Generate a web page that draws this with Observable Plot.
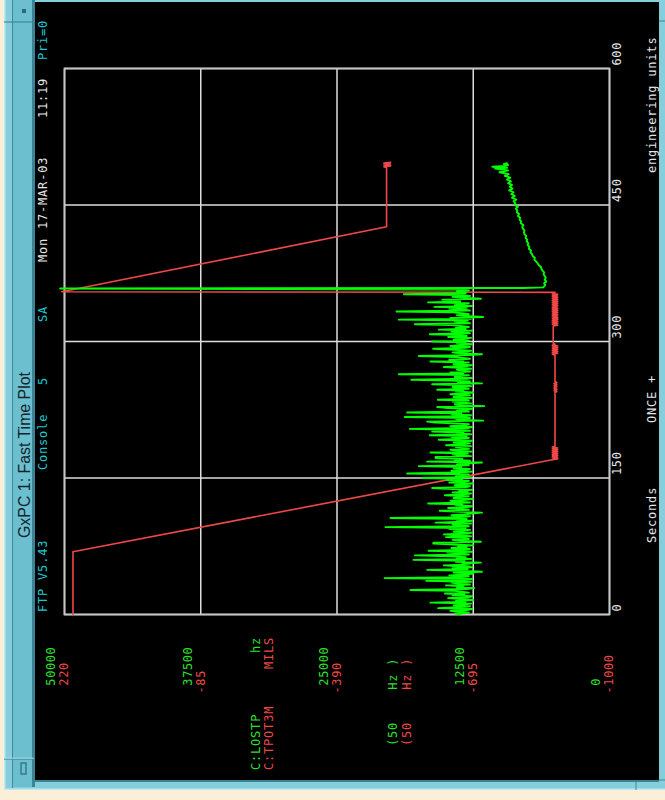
<!DOCTYPE html>
<html><head><meta charset="utf-8">
<script src="https://cdn.jsdelivr.net/npm/d3@7"></script>
<script src="https://cdn.jsdelivr.net/npm/@observablehq/plot@0.6"></script>
<style>
html,body{margin:0;padding:0;width:665px;height:800px;overflow:hidden;background:#fcefd8;}
#rot{position:absolute;left:0;top:0;width:800px;height:665px;transform-origin:0 0;transform:translate(0,800px) rotate(-90deg);}
#chrome,#plot{position:absolute;left:0;top:0;}
.mono{font-family:"DejaVu Sans Mono",monospace;font-size:12px;letter-spacing:0.8px;}
#plot svg text{letter-spacing:0.6px;}
</style></head><body>
<div id="rot">
<svg id="chrome" width="800" height="665" xmlns="http://www.w3.org/2000/svg">
  <rect width="800" height="665" fill="#fcefd8"/>
  <rect x="10" y="4" width="790" height="661" fill="#86cedc"/>
  <rect x="10" y="4" width="790" height="1.5" fill="#bfe9f0"/>
  <rect x="10" y="4" width="1.5" height="661" fill="#bfe9f0"/>
  <rect x="13" y="13" width="787" height="20" fill="#6cbfcf"/>
  <line x1="12" x2="800" y1="12.5" y2="12.5" stroke="#3d8a9b" stroke-width="1"/>
  <rect x="13" y="32" width="787" height="3" fill="#3a8496"/>
  <rect x="18" y="35" width="2" height="624" fill="#3a8496"/>
  <rect x="20" y="35" width="778" height="624" fill="#000"/>
  <rect x="798" y="35" width="2" height="624" fill="#86cedc"/>
  <line x1="41" x2="41" y1="4" y2="34" stroke="#3d8a9b" stroke-width="1.2"/>
  <line x1="41.8" x2="41.8" y1="4" y2="34" stroke="#bfe9f0" stroke-width="0.8"/>
  <rect x="26" y="21" width="11" height="5" fill="none" stroke="#2b6a7a" stroke-width="1.2"/>
  <line x1="778" x2="778" y1="4" y2="34" stroke="#3d8a9b" stroke-width="1.2"/>
  <rect x="787" y="22" width="4" height="4" fill="#2b6a7a"/>
  <line x1="20" x2="20" y1="659" y2="665" stroke="#3d8a9b"/>
  <line x1="779" x2="779" y1="659" y2="665" stroke="#3d8a9b"/>
  <line x1="10" x2="18" y1="636" y2="636" stroke="#3d8a9b"/>
  <text x="345" y="30" text-anchor="middle" font-family="Liberation Sans, Arial, sans-serif" font-size="17" textLength="166" lengthAdjust="spacingAndGlyphs" fill="#13232b">GxPC 1: Fast Time Plot</text>
  <g class="mono">
    <text x="188" y="47" fill="#1cc8d2">FTP V5.43</text>
    <text x="330" y="47" fill="#1cc8d2">Console</text>
    <text x="415" y="47" fill="#1cc8d2">5</text>
    <text x="478" y="47" fill="#1cc8d2">SA</text>
    <text x="538" y="47" fill="#e6e6e6">Mon</text>
    <text x="571" y="47" fill="#e6e6e6">17-MAR-03</text>
    <text x="682" y="47" fill="#e6e6e6">11:19</text>
    <text x="740" y="47" fill="#1cc8d2">Pri=0</text>
    <text x="257" y="655.5" fill="#e6e6e6">Seconds</text>
    <text x="377" y="655.5" fill="#e6e6e6">ONCE +</text>
    <text x="627" y="655.5" fill="#e6e6e6">engineering units</text>
    <text x="30" y="260" fill="#2ee02e">C:LOSTP</text>
    <text x="30" y="272.5" fill="#f04848">C:TPOT3M</text>
    <text x="163" y="260" text-anchor="end" fill="#2ee02e">hz</text>
    <text x="163" y="272.5" text-anchor="end" fill="#f04848">MILS</text>
    <text x="54" y="396.5" fill="#2ee02e">(50&#160;&#160;&#160;&#160;Hz )</text>
    <text x="54" y="410.5" fill="#f04848">(50&#160;&#160;&#160;&#160;Hz )</text>
  </g>
</svg>
<div id="plot"></div>
</div>
<script>
// Axis ticks
const secTicks = [0, 150, 300, 450, 600];
const hzTicks = [0, 12500, 25000, 37500, 50000];
const hzTickLabels = ["0", "12500", "25000", "37500", "50000"];
const milsTickLabels = ["-1000", "-695", "-390", "-85", "220"];
const milsRange = [-1000, 220];

// C:LOSTP (hz), sampled once per second from t = 0 s to 357 s
const greenNoise = [
13600,14200,12900,13800,14600,13100,12600,15720,13900,12800,
14300,13500,12700,16420,13200,14100,12500,13700,14800,13000,
12600,14400,13300,15100,12900,13600,14200,18260,13100,12400,
14000,13400,15000,12800,13900,14500,12700,16820,13300,12600,
20640,13800,12900,14700,13200,12500,14300,11700,13600,16730,
13000,14400,12600,13900,15200,12800,13500,11800,14100,13300,
17980,12700,14000,13200,14600,17860,12900,13700,14900,12600,
16600,13400,12800,14500,13100,13900,12500,14200,16180,16120,
11800,13600,14400,12900,13300,15000,12700,14100,15200,13000,
12600,14300,13500,12800,14700,13200,20550,12900,13800,14400,
12700,15960,13400,12600,14000,13100,20090,13700,12800,14500,
13300,12700,11700,14200,15570,12900,13600,14800,13000,12600,
14100,13500,16640,12800,13900,14600,13200,12500,14300,13700,
12900,15100,13400,12700,14400,13000,13800,12600,14900,16270,
13100,12800,14200,13600,12500,14700,13300,12900,15000,13500,
17190,12700,14100,13400,12900,18560,13800,12600,14500,13100,
12800,14300,13600,17490,12900,14000,13300,11700,16730,12800,
14200,13500,15960,15960,12700,13900,14400,13000,16420,12600,
13700,14600,12900,13300,14100,12700,15000,13500,12800,14300,
13200,12600,15660,13800,12900,14500,13100,16490,12700,14000,
13400,16270,12800,14200,18320,13000,12600,14600,13300,12900,
14400,15960,16730,11600,13700,14100,12800,18780,13200,12700,
14500,13600,18560,12900,14000,13300,12600,14800,15810,11500,
13800,14200,12700,13500,14400,12900,15750,13100,12600,14300,
13700,12800,14600,13200,12500,14100,13400,15810,12900,13600,
14400,12700,13300,16270,11700,13900,12800,14500,18190,13100,
12600,14200,13700,12900,19330,13400,14600,12800,13300,14000,
12700,13800,15200,13100,12600,14300,13600,12900,16420,13400,
14700,12800,13500,14100,17490,12900,11700,13700,14400,13000,
12700,14200,16180,13300,12800,14600,13500,12600,14000,13200,
16270,12900,14300,13600,12700,14800,13100,13900,16490,12800,
13400,14500,12600,15660,13200,14100,12900,13700,14400,17860,
12800,13500,14200,13000,19330,12700,14600,11600,13300,14000,
12900,13600,14300,19540,12800,13400,14700,13100,16060,12600,
14200,13500,12900,16640,13700,14100,15350,11800,13300,14400,
12800,13600,18870,13200,13500,14000,12900,13600
];

// C:LOSTP (hz) spike and recovery after 358 s
const greenPostT = [358.2,358.8,359.5,362,364,366,368,370,372,374,376,378,380,382,384,386,388,390,392,394,396,398,400,402,404,406,408,410,412,414,416,418,420,422,424,426,428,430,432,434,436,438,440,442,444,446,448,450,452,454,456,458,460,462,464,466,468,470,472,474,476,478,480,482,484,486,488,490,491,492,493,494,495,496];
const greenPostHz = [50400,7900,6080,5900,6000,5800,5950,5850,5950,6050,6000,6150,6250,6300,6500,6600,6750,6900,6850,7050,7100,7250,7200,7400,7350,7500,7450,7600,7550,7700,7650,7800,7850,7800,7950,8000,7900,8150,8100,8250,8200,8400,8300,8500,8450,8600,8400,8700,8650,8800,8550,8950,8700,9000,8800,9200,8900,9150,8950,9300,9050,9400,9100,9600,9250,10100,9300,10500,9400,10750,9600,9300,9700,9400];

// C:TPOT3M (MILS)
const redT = [0,69,170,
171,172,173,174,175,176,177,178,179,180,181,182,183,184,185,
244,245,246,247,248,249,250,251,252,253,254,255,256,
285,286,287,288,289,290,291,292,293,294,295,296,297,
298,317,
318,319,320,321,322,323,324,325,326,327,328,329,330,331,332,333,334,335,336,337,338,339,340,341,342,343,344,345,346,347,348,349,350,351,352,353,354,
354.6,426,491,492,493,494,495,496,497];
const redMils = [201,201,-872,
-884,-872,-884,-872,-884,-872,-884,-872,-884,-872,-884,-872,-884,-872,-878,
-878,-882,-876,-882,-876,-882,-876,-882,-876,-882,-876,-882,-878,
-878,-872,-884,-872,-884,-872,-884,-872,-884,-872,-884,-872,-878,
-874,-874,
-884,-872,-884,-872,-884,-872,-884,-872,-884,-872,-884,-872,-884,-872,-884,-872,-884,-872,-884,-872,-884,-872,-884,-872,-884,-872,-884,-872,-884,-872,-884,-872,-884,-872,-884,-872,-878,
226,-501,-501,-495,-510,-495,-510,-495,-510];

// shared vertical scale: MILS axis is drawn against the hz axis
const milsToHz = m => (m - milsRange[0]) / (milsRange[1] - milsRange[0]) * hzTicks[hzTicks.length - 1];

const greenRows = greenNoise.map((v, i) => ({t: i, hz: v}))
  .concat(greenPostT.map((t, i) => ({t, hz: greenPostHz[i]})));
const redRows = redT.map((t, i) => ({t, hz: milsToHz(redMils[i])}));

const pad = s => (s.startsWith("-") ? s : "\u00a0" + s);
const hzLabel = new Map(hzTicks.map((d, i) => [d, pad(hzTickLabels[i])]));
const milsLabel = new Map(hzTicks.map((d, i) => [d, pad(milsTickLabels[i])]));

const GREEN = "#2ee02e", RED = "#f04848";

const chart = Plot.plot({
  width: 800, height: 665,
  marginLeft: 185, marginRight: 69, marginTop: 64, marginBottom: 56,
  x: {domain: [0, 600], label: null},
  y: {domain: [0, 50000], label: null},
  marks: [
    Plot.gridX(secTicks, {stroke: "#dedede", strokeOpacity: 1, strokeWidth: 1.5}),
    Plot.gridY(hzTicks, {stroke: "#dedede", strokeOpacity: 1, strokeWidth: 1.5}),
    Plot.frame({stroke: "#c6c6c6", strokeWidth: 1.8}),
    Plot.line(redRows, {x: "t", y: "hz", stroke: RED, strokeWidth: 1.6}),
    Plot.line(greenRows, {x: "t", y: "hz", stroke: "#00ff00", strokeWidth: 1.9}),
    Plot.axisX(secTicks, {anchor: "bottom", tickSize: 0, tickPadding: 3, textAnchor: "start", dx: 3, fill: "#e6e6e6", fontSize: 12, tickFormat: d => String(d), label: null}),
    Plot.axisY(hzTicks, {anchor: "left", tickSize: 0, tickPadding: 0, textAnchor: "start", dx: -79, dy: -13, fill: GREEN, fontSize: 12, tickFormat: d => hzLabel.get(d), label: null}),
    Plot.axisY(hzTicks, {anchor: "left", tickSize: 0, tickPadding: 0, textAnchor: "start", dx: -79, dy: 0, fill: RED, fontSize: 12, tickFormat: d => milsLabel.get(d), label: null})
  ]
});
chart.style.background = "transparent";
chart.style.maxWidth = "none";
chart.style.overflow = "visible";
chart.setAttribute("font-family", '"DejaVu Sans Mono", monospace');
chart.setAttribute("font-size", "12");
document.getElementById("plot").appendChild(chart);
</script>
</body></html>
